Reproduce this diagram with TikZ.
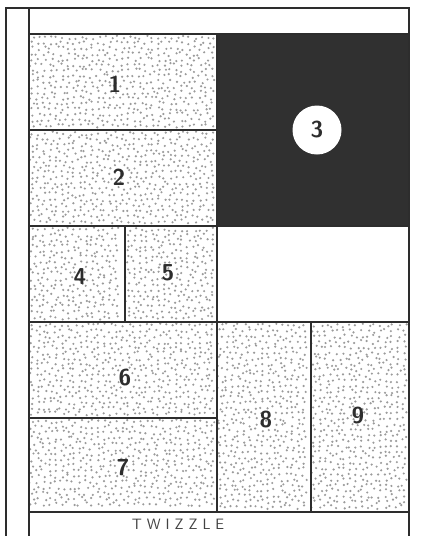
\documentclass[tikz,border=0pt]{standalone}
\usepackage{tikz}
\usetikzlibrary{positioning}
\definecolor{twink}{RGB}{45,45,45}
\definecolor{twdot}{RGB}{155,155,155}
\definecolor{twdark}{RGB}{48,48,48}

% jittered stipple inside a box: x1 y1 x2 y2 seed
\newcommand{\twstipple}[5]{%
  \pgfmathsetseed{#5}%
  \pgfmathtruncatemacro{\twnx}{(#3-#1-2)/6}%
  \pgfmathtruncatemacro{\twny}{(#4-#2-2)/5.5}%
  \foreach \j in {1,...,\twny} {%
    \foreach \i in {1,...,\twnx} {%
      \pgfmathsetmacro{\px}{#1+\i*6-3+mod(\j,2)*1.5-0.75+rand*2}%
      \pgfmathsetmacro{\py}{#2+\j*5.5-2+rand*2}%
      \fill[twdot] (\px,\py) circle (1.2pt);
    }%
  }%
}

\begin{document}
\begin{tikzpicture}[x=1pt,y=-1pt,
    frameline/.style={draw=twink,line width=1.7pt},
    cellline/.style={draw=twink,line width=1.5pt},
    digit/.style={font=\fontsize{23}{23}\selectfont\sffamily\bfseries,text=twink}]
  \useasboundingbox[fill=white] (0,0) rectangle (431,536);

  % stippled boxes
  \twstipple{29}{34}{217}{130}{11}
  \twstipple{29}{130}{217}{226}{12}
  \twstipple{29}{226}{125}{322}{13}
  \twstipple{125}{226}{217}{322}{14}
  \twstipple{29}{322}{217}{418}{15}
  \twstipple{29}{418}{217}{512}{16}
  \twstipple{217}{322}{311}{512}{17}
  \twstipple{311}{322}{409}{512}{18}

  % black box with the white disc
  \fill[twdark] (217,34) rectangle (409,226);
  \fill[white] (317,130) circle (24.5pt);

  % outer frame
  \draw[frameline] (6,536) -- (6,8) -- (409,8) -- (409,536);
  \draw[frameline] (29,8) -- (29,536);

  % cell borders
  \draw[cellline] (29,34) -- (409,34);
  \draw[cellline] (29,130) -- (217,130);
  \draw[cellline] (29,226) -- (409,226);
  \draw[cellline] (29,322) -- (409,322);
  \draw[cellline] (29,418) -- (217,418);
  \draw[cellline] (29,512) -- (409,512);
  \draw[cellline] (217,34) -- (217,512);
  \draw[cellline] (125,226) -- (125,322);
  \draw[cellline] (311,322) -- (311,512);

  % labels
  \node[digit] (n1) at (115,84) {1};
  \node[digit] (n2) at (119,177) {2};
  \node[digit] (n3) at (317,130) {3};
  \node[digit] (n4) at (80,277) {4};
  \node[digit] (n5) at (168,273) {5};
  \node[digit] (n6) at (125,378) {6};
  \node[digit] (n7) at (123,468) {7};
  \node[digit] (n8) at (266,420) {8};
  \node[digit] (n9) at (358,416) {9};
  \node[font=\sffamily\fontsize{15}{15}\selectfont,text=twink!90] (name) at (178,524) {T\,\,W\,\,I\,\,Z\,\,Z\,\,L\,\,E};
\end{tikzpicture}
\end{document}
